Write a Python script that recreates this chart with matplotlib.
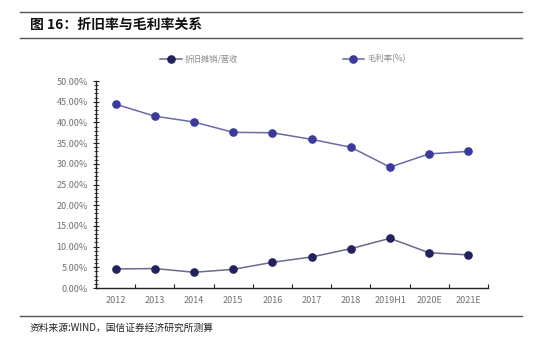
import matplotlib
matplotlib.use("Agg")
import matplotlib.pyplot as plt
from matplotlib.ticker import MultipleLocator, FuncFormatter
import numpy as np

plt.rcParams['font.family'] = ['Noto Sans CJK SC', 'DejaVu Sans']

categories = ["2012", "2013", "2014", "2015", "2016", "2017", "2018", "2019H1", "2020E", "2021E"]
depr_ratio = [4.6, 4.7, 3.8, 4.5, 6.2, 7.5, 9.5, 12.0, 8.5, 8.0]
gross_margin = [44.4, 41.5, 40.1, 37.6, 37.5, 35.9, 34.0, 29.2, 32.4, 33.0]
series_names = ["折旧摊销/营收", "毛利率(%)"]
title = "图 16：折旧率与毛利率关系"
source = "资料来源:WIND，国信证券经济研究所测算"

W, H = 543, 338
fig = plt.figure(figsize=(W / 100, H / 100), dpi=100)
ax = fig.add_axes([96 / W, 1 - 288 / H, (488 - 96) / W, (288 - 81) / H])

x = np.arange(len(categories))
ax.plot(x, depr_ratio, color="#6a6a8a", lw=1.1, marker="o", ms=5.2,
        mfc="#22225e", mec="#22225e", label=series_names[0], zorder=3)
ax.plot(x, gross_margin, color="#6a6aa8", lw=1.1, marker="o", ms=5.2,
        mfc="#3a3a9a", mec="#3a3a9a", label=series_names[1], zorder=3)

ax.set_xlim(-0.5, len(categories) - 0.5)
ax.set_ylim(0, 50)
ax.yaxis.set_major_locator(MultipleLocator(5))
ax.yaxis.set_minor_locator(MultipleLocator(1))
ax.yaxis.set_major_formatter(FuncFormatter(lambda v, p: f"{v:.2f}%"))
ax.set_xticks(x)
ax.set_xticklabels(categories)
ax.set_xticks(np.arange(-0.5, len(categories), 1), minor=True)
ax.tick_params(axis="x", which="major", length=0, labelsize=6.5, labelcolor="#707070", pad=6)
ax.tick_params(axis="x", which="minor", direction="in", length=3, width=0.8, color="#222222")
ax.tick_params(axis="y", which="major", direction="inout", length=4, width=0.8, labelsize=6.5,
               labelcolor="#707070", color="#222222", pad=4)
ax.tick_params(axis="y", which="minor", direction="inout", length=2.5, width=0.6, color="#222222")
for s in ["top", "right"]:
    ax.spines[s].set_visible(False)
for s in ["left", "bottom"]:
    ax.spines[s].set_color("#222222")
    ax.spines[s].set_linewidth(1.0)

leg = fig.legend(loc="center", bbox_to_anchor=(283 / W, 1 - 59 / H), ncol=2, frameon=False,
                 fontsize=6, handlelength=2.6, columnspacing=12.5, handletextpad=0.4)
for t in leg.get_texts():
    t.set_color("#8a8a8a")

# title and rules
fig.add_artist(plt.Line2D([20 / W, 522 / W], [1 - 12 / H, 1 - 12 / H], color="#555555", lw=1.0))
fig.add_artist(plt.Line2D([20 / W, 522 / W], [1 - 38 / H, 1 - 38 / H], color="#555555", lw=1.0))
fig.text(30 / W, 1 - 25 / H, title, fontsize=10, fontweight="bold", va="center", ha="left", color="#111111")
fig.add_artist(plt.Line2D([20 / W, 522 / W], [1 - 316 / H, 1 - 316 / H], color="#555555", lw=1.0))
fig.text(30 / W, 1 - 328 / H, source, fontsize=7, va="center", ha="left", color="#222222")

fig.savefig("out.png", dpi=100)
